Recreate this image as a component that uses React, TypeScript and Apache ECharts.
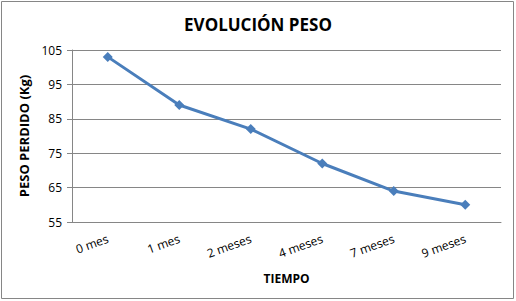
import React, { useEffect, useRef } from "react";
import * as echarts from "echarts";

const categories = ["0 mes", "1 mes", "2 meses", "4 meses", "7 meses", "9 meses"];
const pesoValues = [103, 89, 82, 72, 64, 60];
const titleText = "EVOLUCIÓN PESO";
const yAxisName = "PESO PERDIDO (Kg)";
const xAxisName = "TIEMPO";

export default function App() {
  const ref = useRef<HTMLDivElement>(null);
  useEffect(() => {
    if (!ref.current) return;
    const chart = echarts.init(ref.current, null, { renderer: "svg" });
    const font = "'Open Sans', 'Noto Sans', sans-serif";
    chart.setOption({
      animation: false,
      backgroundColor: "#ffffff",
      title: {
        text: titleText,
        left: "center",
        top: 11,
        textStyle: { fontFamily: font, fontSize: 17, fontWeight: "bold", color: "#000" },
      },
      grid: { left: 72, right: 15, top: 50, bottom: 79 },
      xAxis: {
        type: "category",
        data: categories,
        boundaryGap: true,
        name: xAxisName,
        nameLocation: "middle",
        nameGap: 50,
        nameTextStyle: { fontFamily: font, fontSize: 12, fontWeight: "bold", color: "#000" },
        axisLine: { lineStyle: { color: "#868686", width: 1 } },
        axisTick: { show: false },
        axisLabel: {
          rotate: 20,
          margin: 16,
          fontFamily: font,
          fontSize: 12,
          color: "#000",
        },
      },
      yAxis: {
        type: "value",
        min: 55,
        max: 105,
        interval: 10,
        name: yAxisName,
        nameLocation: "middle",
        nameGap: 38,
        nameTextStyle: { fontFamily: font, fontSize: 13, fontWeight: "bold", color: "#000" },
        axisLine: { show: true, lineStyle: { color: "#868686", width: 1 } },
        axisTick: { show: true, length: 5, lineStyle: { color: "#868686" } },
        axisLabel: { fontFamily: font, fontSize: 12, color: "#000", margin: 10 },
        splitLine: { lineStyle: { color: "#868686", width: 1 } },
      },
      series: [
        {
          type: "line",
          data: pesoValues,
          symbol: "diamond",
          symbolSize: 10,
          lineStyle: { color: "#4a7ebb", width: 3 },
          itemStyle: { color: "#4a7ebb" },
        },
      ],
      graphic: [
        {
          type: "rect",
          shape: { x: 1.5, y: 1.5, width: 512, height: 297 },
          style: { fill: "none", stroke: "#868686", lineWidth: 1 },
          silent: true,
        },
      ],
    });
    return () => chart.dispose();
  }, []);
  return (
    <div
      ref={ref}
      style={{ position: "fixed", left: 0, top: 0, width: 516, height: 301 }}
    />
  );
}
